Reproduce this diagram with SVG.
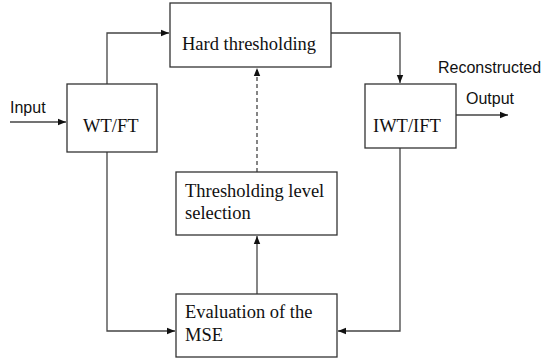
<svg xmlns="http://www.w3.org/2000/svg" width="547" height="360" viewBox="0 0 547 360">
  <style>
    .box { fill: #fff; stroke: #333; stroke-width: 1.3; }
    .lbl { font-family: "Liberation Serif", "Times New Roman", serif; font-size: 18.5px; fill: #111; }
    .io { font-family: "Liberation Sans", Arial, sans-serif; font-size: 16px; fill: #111; }
    .wire { fill: none; stroke: #444; stroke-width: 1.3; }
    .dash { stroke-dasharray: 4 3; }
  </style>
  <defs>
    <marker id="arrow" viewBox="0 0 10 10" refX="10" refY="5" markerWidth="8" markerHeight="8" markerUnits="userSpaceOnUse" orient="auto">
      <path d="M0,1 L10,5 L0,9 z" fill="#111"/>
    </marker>
  </defs>

  <rect width="547" height="360" fill="#fff"/>

  <g id="connectors">
    <path class="wire" d="M10,122 H66" marker-end="url(#arrow)"/>
    <path class="wire" d="M107,84 V33 H169" marker-end="url(#arrow)"/>
    <path class="wire" d="M331,33 H400 V83" marker-end="url(#arrow)"/>
    <path class="wire" d="M456,115 H508" marker-end="url(#arrow)"/>
    <path class="wire" d="M107,152 V331 H175" marker-end="url(#arrow)"/>
    <path class="wire" d="M400,148 V331 H338" marker-end="url(#arrow)"/>
    <path class="wire" d="M257,294 V236" marker-end="url(#arrow)"/>
    <path class="wire dash" d="M257,172 V68" marker-end="url(#arrow)"/>
  </g>

  <g id="input-label">
    <text class="io" x="10" y="113">Input</text>
  </g>

  <g id="wt-ft">
    <rect class="box" x="67" y="84" width="90" height="68"/>
    <text class="lbl" x="83" y="132">WT/FT</text>
  </g>

  <g id="hard-thresholding">
    <rect class="box" x="170" y="3" width="161" height="64"/>
    <text class="lbl" x="182" y="50">Hard thresholding</text>
  </g>

  <g id="iwt-ift">
    <rect class="box" x="365" y="84" width="91" height="64"/>
    <text class="lbl" x="373" y="132">IWT/IFT</text>
  </g>

  <g id="output-label">
    <text class="io" x="438" y="73">Reconstructed</text>
    <text class="io" x="466" y="104">Output</text>
  </g>

  <g id="threshold-level-selection">
    <rect class="box" x="176" y="172" width="161" height="63"/>
    <text class="lbl" x="185" y="197">Thresholding level</text>
    <text class="lbl" x="185" y="219">selection</text>
  </g>

  <g id="mse-evaluation">
    <rect class="box" x="176" y="294" width="161" height="63"/>
    <text class="lbl" x="185" y="318">Evaluation of the</text>
    <text class="lbl" x="185" y="341">MSE</text>
  </g>
</svg>
